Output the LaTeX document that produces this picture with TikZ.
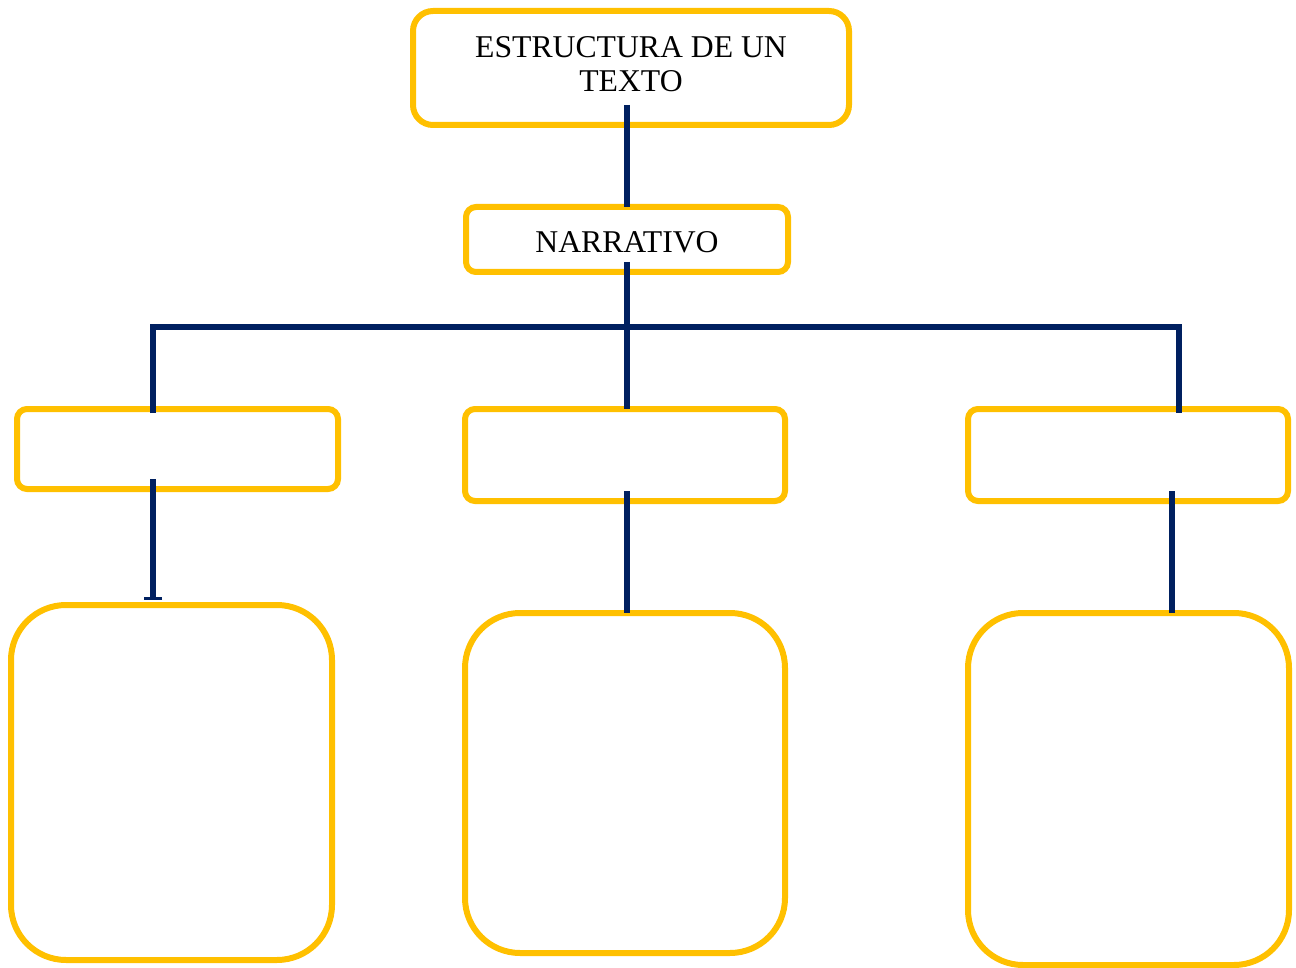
\documentclass[tikz,border=0pt]{standalone}
\usepackage{fontspec}
\setmainfont{Liberation Serif}
\usetikzlibrary{arrows.meta}
\definecolor{boxyellow}{HTML}{FFC000}
\definecolor{linkblue}{HTML}{002060}
\begin{document}
\begin{tikzpicture}[x=1pt,y=-1pt,
  box/.style={draw=boxyellow,line width=6pt,fill=none,inner sep=0pt,outer sep=0pt,
    font=\fontsize{31.7}{34}\selectfont,align=center},
  conn/.style={draw=linkblue,line width=5.5pt}]
\useasboundingbox (0,0) rectangle (1296,968);
% boxes
\node[box,rounded corners=20pt,minimum width=436pt,minimum height=114pt] (top) at (631,68) {\begin{tabular}{@{}c@{}}ESTRUCTURA DE UN\\TEXTO\end{tabular}};
\node[box,rounded corners=10pt,minimum width=322pt,minimum height=65pt] (narr) at (627,239.5) {\raisebox{-2.5pt}[\height][0pt]{NARRATIVO}};
\node[box,rounded corners=10pt,minimum width=321pt,minimum height=80pt] (l1) at (177.5,449) {};
\node[box,rounded corners=10pt,minimum width=320pt,minimum height=92pt] (m1) at (625,455) {};
\node[box,rounded corners=10pt,minimum width=320pt,minimum height=92pt] (r1) at (1128,455) {};
\node[box,rounded corners=55pt,minimum width=321pt,minimum height=355pt] (l2) at (171.5,782.5) {};
\node[box,rounded corners=55pt,minimum width=320pt,minimum height=340pt] (m2) at (625,783) {};
\node[box,rounded corners=55pt,minimum width=321pt,minimum height=352pt] (r2) at (1128.5,789) {};
% bus
\coordinate (busl) at (153,327);
\coordinate (busr) at (1179,327);
% connectors
\draw[conn] ([xshift=-4pt,yshift=20pt]top.south) -- ([xshift=-4pt]top.south |- narr.north);
\draw[conn] ([yshift=10pt]narr.south) -- ([xshift=2pt]m1.north);
\draw[conn] ([yshift=-4pt]l1.north -| busl) -- (busl) -- (busr) -- ([yshift=-4pt]r1.north -| busr);
\draw[conn,-{Bar[width=18pt,line width=3.5pt]}] ([yshift=10pt]l1.south -| busl) -- ([yshift=5pt]l2.north -| busl);
\draw[conn] ([xshift=2pt,yshift=10pt]m1.south) -- ([xshift=2pt]m2.north);
\draw[conn] ([xshift=44pt,yshift=10pt]r1.south) -- ([xshift=44pt]r1.south |- r2.north);
\end{tikzpicture}
\end{document}
